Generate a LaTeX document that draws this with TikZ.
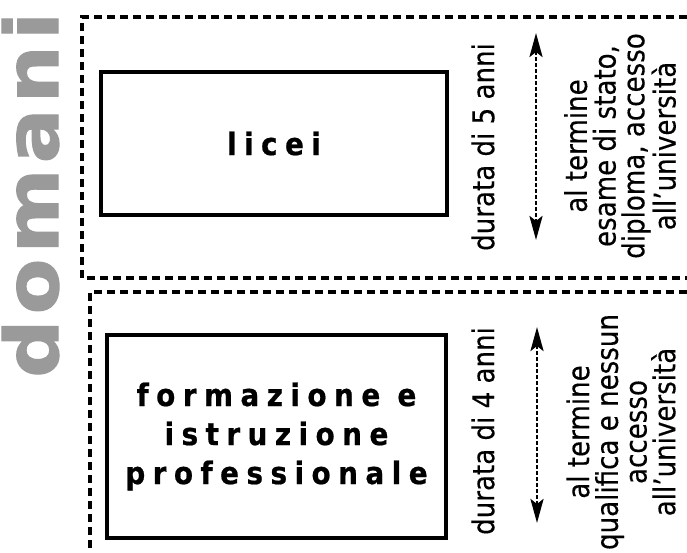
\documentclass[tikz,border=0pt]{standalone}
\usepackage{fontspec}
\setmainfont{DejaVu Sans}[FakeStretch=0.87, FakeBold=0.3]
\newfontfamily\boxfont{DejaVu Sans}[UprightFont=* Bold, FakeStretch=0.9, LetterSpace=24, FakeBold=0.6]
\newfontfamily\bigfont{DejaVu Sans}[UprightFont=* Bold, FakeStretch=1.1, LetterSpace=7, FakeBold=1.5]
\usepackage{tikz}
\usetikzlibrary{arrows.meta}
\usepackage{xcolor}
\definecolor{domanigray}{HTML}{9A9A9A}

\begin{document}
\begin{tikzpicture}[x=1pt, y=-1pt,
  sectionline/.style={line width=3.2pt, dash pattern=on 8pt off 5pt},
  schoolbox/.style={draw, line width=3.4pt, align=center, inner sep=0pt,
    font=\boxfont\fontsize{31}{39}\selectfont},
  sidetext/.style={rotate=90, align=center, inner sep=0pt,
    font=\fontsize{30}{28.7}\selectfont},
  yeararrow/.style={{Stealth[length=24pt,width=13pt,inset=5pt]}-{Stealth[length=24pt,width=13pt,inset=5pt]},
    line width=2.8pt, dash pattern=on 4pt off 2pt}]
  \useasboundingbox (0,0) rectangle (687,553);

  \node[rotate=90, inner sep=0pt, text=domanigray, font=\bigfont\fontsize{74}{74}\selectfont] (domani) at (30.5,195) {domani};

  \draw[sectionline] (687,17) -- (82,17) -- (82,278) -- (687,278);
  \draw[sectionline] (687,292) -- (90,292) -- (90,553);

  \node[schoolbox, minimum width=346pt, minimum height=143pt] (licei) at (274,143.5) {licei};
  \node[sidetext] (durata5) at (483,147) {durata di 5 anni};
  \coordinate (top5) at (536,33);
  \coordinate (bot5) at (536,240);
  \draw[yeararrow] (top5) -- (bot5);
  \node[sidetext] (esito5) at (620,146) {al termine\\esame di stato,\\diploma, accesso\\all’università};

  \node[schoolbox, minimum width=339pt, minimum height=203pt] (formazione) at (276.5,436.5) {formazione e\\istruzione\\professionale};
  \node[sidetext] (durata4) at (483,431) {durata di 4 anni};
  \coordinate (top4) at (537,327);
  \coordinate (bot4) at (537,523);
  \draw[yeararrow] (top4) -- (bot4);
  \node[sidetext] (esito4) at (621,432) {al termine\\qualifica e nessun\\accesso\\all’università};
\end{tikzpicture}
\end{document}
